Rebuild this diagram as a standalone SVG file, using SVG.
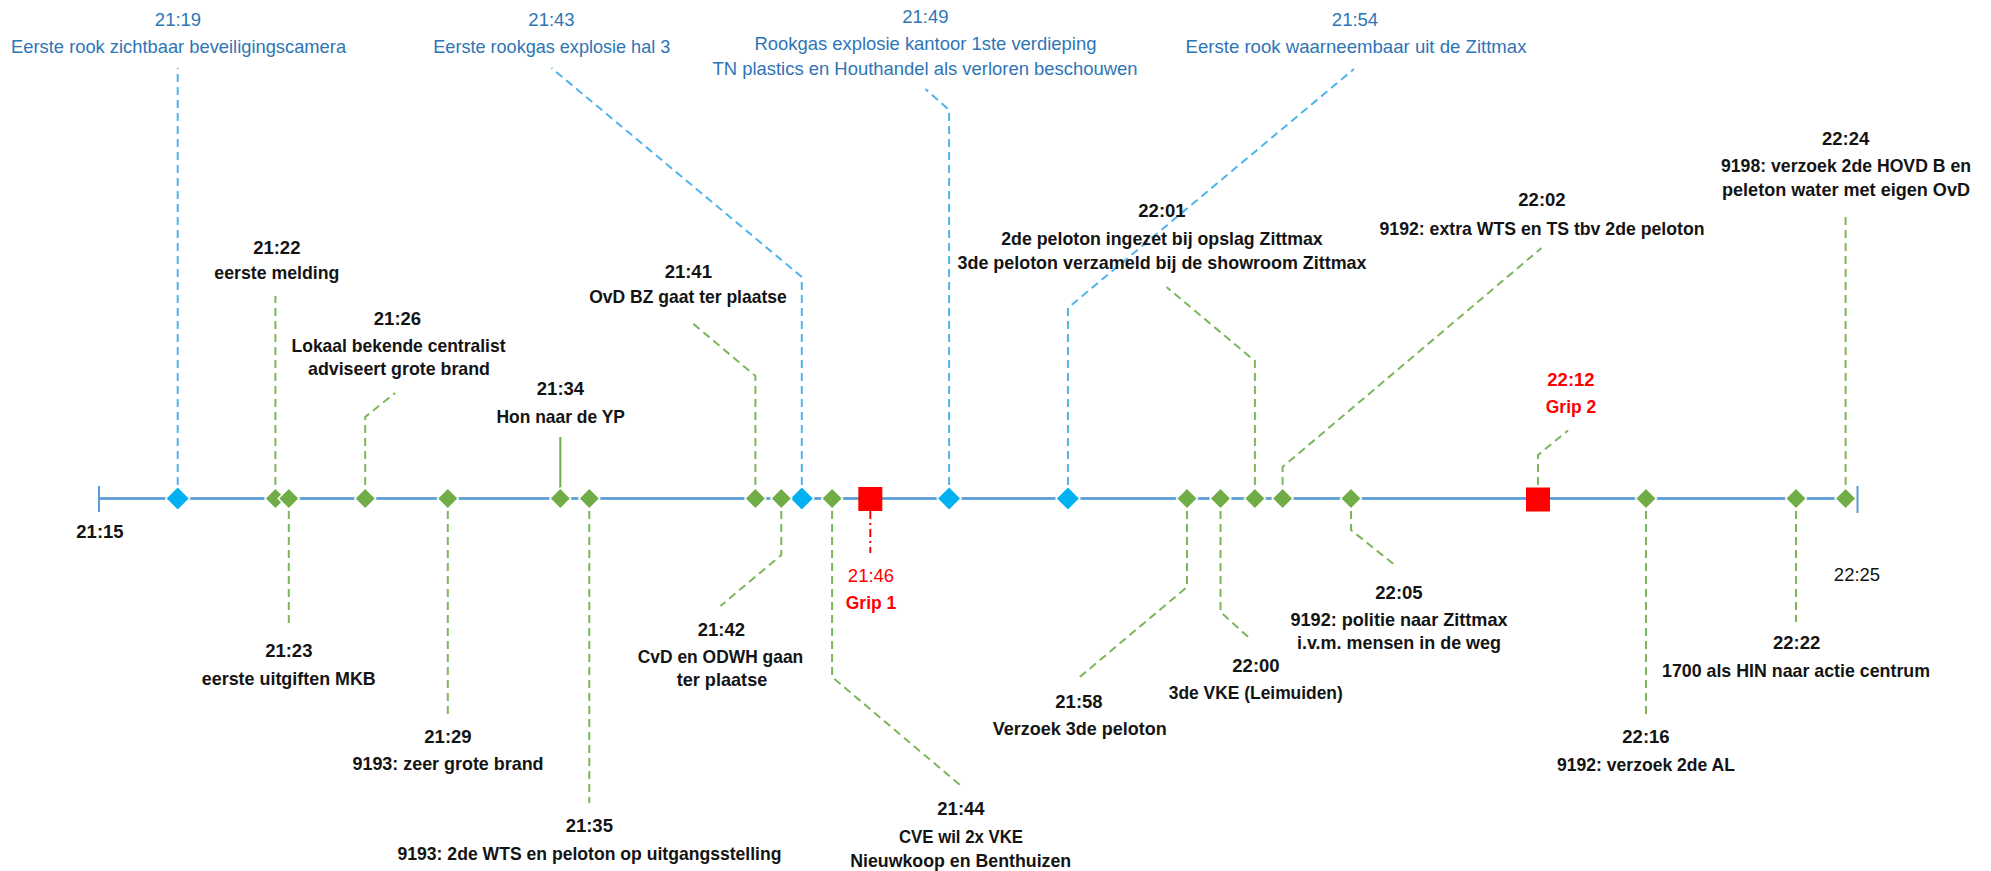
<svg xmlns="http://www.w3.org/2000/svg" xmlns:xlink="http://www.w3.org/1999/xlink" width="1991" height="871" viewBox="0 0 1991 871">
<style>
text{font-family:"Liberation Sans",Arial,sans-serif;font-size:18.5px;text-anchor:middle}
.bl{fill:#2E75B6}
.k{fill:#141414;font-weight:bold}
.rd{fill:#FF0000}
.rb{fill:#FF0000;font-weight:bold}
.cb{fill:none;stroke:#4FB4EC;stroke-width:2;stroke-dasharray:8 5}
.cg{fill:none;stroke:#7CB65A;stroke-width:2;stroke-dasharray:8 5}
.cgs{fill:none;stroke:#70AD47;stroke-width:2}
.cr{fill:none;stroke:#FF0000;stroke-width:2;stroke-dasharray:8 4 2 4}
.axis{fill:none;stroke:#5B9BD5;stroke-width:2.5}
</style>
<defs>
<path id="dg" d="M0,-10.5L10.5,0L0,10.5L-10.5,0Z" fill="#70AD47" stroke="#fff" stroke-width="1.5"/>
<path id="db" d="M0,-12L12,0L0,12L-12,0Z" fill="#00B0F0" stroke="#fff" stroke-width="1.5"/>
<rect id="sq" x="-12" y="-12" width="24" height="24" fill="#FF0000"/>
</defs>
<rect width="1991" height="871" fill="#fff"/>

<g id="connectors">
<path class="cb" d="M177.7,498V68"/>
<path class="cb" d="M801.8,498V277L551.5,68"/>
<path class="cb" d="M949.1,498V110L925.4,89"/>
<path class="cb" d="M1067.9,498V308L1354,69"/>
<path class="cg" d="M275.4,498V296"/>
<path class="cg" d="M365.2,498V417L395,393"/>
<path class="cgs" d="M560.3,498V437"/>
<path class="cg" d="M755.4,498V376L690,321"/>
<path class="cg" d="M1254.9,498V361L1166.5,287"/>
<path class="cg" d="M1282.6,498V467L1541.5,248"/>
<path class="cg" d="M1538,498V455L1568,430.5"/>
<path class="cg" d="M1845.6,498V212"/>
<path class="cg" d="M288.8,498V625"/>
<path class="cg" d="M447.8,498V715"/>
<path class="cg" d="M589.3,498V803"/>
<path class="cg" d="M781.3,498V555L720.5,606"/>
<path class="cg" d="M832.1,498V677L961.2,786"/>
<path class="cr" d="M870.3,511V553"/>
<path class="cg" d="M1187,498V587L1078.6,678"/>
<path class="cg" d="M1220.5,498V612L1250.4,639"/>
<path class="cg" d="M1351,498V530L1394.8,565"/>
<path class="cg" d="M1646,498V715"/>
<path class="cg" d="M1796,498V622"/>
</g>

<g id="axis">
<path class="axis" d="M99,498.5H1857.5M99,486V512M1857.5,486V513" style="stroke-width:2"/>
<path class="axis" d="M99,498.5H1857.5"/>
<text class="k" x="100" y="538">21:15</text>
<text x="1857" y="580.5" fill="#141414">22:25</text>
</g>

<g id="n2119">
<use href="#db" x="177.7" y="498.5"/>
<text class="bl" x="178" y="26">21:19</text>
<text class="bl" x="178.6" y="52.5" textLength="335" lengthAdjust="spacingAndGlyphs">Eerste rook zichtbaar beveiligingscamera</text>
</g>
<g id="n2143">
<use href="#db" x="801.8" y="498.5"/>
<text class="bl" x="551.5" y="26">21:43</text>
<text class="bl" x="551.8" y="52.5" textLength="237" lengthAdjust="spacingAndGlyphs">Eerste rookgas explosie hal 3</text>
</g>
<g id="n2149">
<use href="#db" x="949.1" y="498.5"/>
<text class="bl" x="925.4" y="23">21:49</text>
<text class="bl" x="925.4" y="49.5" textLength="342" lengthAdjust="spacingAndGlyphs">Rookgas explosie kantoor 1ste verdieping</text>
<text class="bl" x="925" y="74.5" textLength="425" lengthAdjust="spacingAndGlyphs">TN plastics en Houthandel als verloren beschouwen</text>
</g>
<g id="n2154">
<use href="#db" x="1067.9" y="498.5"/>
<text class="bl" x="1355" y="26">21:54</text>
<text class="bl" x="1356" y="52.5" textLength="341" lengthAdjust="spacingAndGlyphs">Eerste rook waarneembaar uit de Zittmax</text>
</g>

<g id="n2122">
<use href="#dg" x="275.4" y="498.5"/>
<text class="k" x="276.8" y="253.5">21:22</text>
<text class="k" x="276.8" y="278.5" textLength="125" lengthAdjust="spacingAndGlyphs">eerste melding</text>
</g>
<g id="n2123">
<use href="#dg" x="288.8" y="498.5"/>
<text class="k" x="288.8" y="657">21:23</text>
<text class="k" x="288.8" y="685" textLength="174" lengthAdjust="spacingAndGlyphs">eerste uitgiften MKB</text>
</g>
<g id="n2126">
<use href="#dg" x="365.2" y="498.5"/>
<text class="k" x="397.5" y="324.5">21:26</text>
<text class="k" x="398.5" y="351.5" textLength="214" lengthAdjust="spacingAndGlyphs">Lokaal bekende centralist</text>
<text class="k" x="399" y="374.5" textLength="182" lengthAdjust="spacingAndGlyphs">adviseert grote brand</text>
</g>
<g id="n2129">
<use href="#dg" x="447.8" y="498.5"/>
<text class="k" x="448" y="743">21:29</text>
<text class="k" x="448" y="770" textLength="191" lengthAdjust="spacingAndGlyphs">9193: zeer grote brand</text>
</g>
<g id="n2134">
<use href="#dg" x="560.3" y="498.5"/>
<text class="k" x="560.5" y="394.5">21:34</text>
<text class="k" x="560.7" y="422.5" textLength="128.6" lengthAdjust="spacingAndGlyphs">Hon naar de YP</text>
</g>
<g id="n2135">
<use href="#dg" x="589.3" y="498.5"/>
<text class="k" x="589.3" y="832">21:35</text>
<text class="k" x="589.5" y="860" textLength="384" lengthAdjust="spacingAndGlyphs">9193: 2de WTS en peloton op uitgangsstelling</text>
</g>
<g id="n2141">
<use href="#dg" x="755.4" y="498.5"/>
<text class="k" x="688.3" y="278">21:41</text>
<text class="k" x="688" y="303" textLength="197.5" lengthAdjust="spacingAndGlyphs">OvD BZ gaat ter plaatse</text>
</g>
<g id="n2142">
<use href="#dg" x="781.3" y="498.5"/>
<text class="k" x="721.4" y="636">21:42</text>
<text class="k" x="720.5" y="663" textLength="165.5" lengthAdjust="spacingAndGlyphs">CvD en ODWH gaan</text>
<text class="k" x="722" y="686" textLength="90.6" lengthAdjust="spacingAndGlyphs">ter plaatse</text>
</g>
<g id="n2144">
<use href="#dg" x="832.1" y="498.5"/>
<text class="k" x="961" y="815">21:44</text>
<text class="k" x="961" y="842.5" textLength="124" lengthAdjust="spacingAndGlyphs">CVE wil 2x VKE</text>
<text class="k" x="960.7" y="866.5" textLength="221" lengthAdjust="spacingAndGlyphs">Nieuwkoop en Benthuizen</text>
</g>
<g id="n2146">
<use href="#sq" x="870.3" y="499"/>
<text class="rd" x="871" y="582">21:46</text>
<text class="rb" x="871" y="609" textLength="50.5" lengthAdjust="spacingAndGlyphs">Grip 1</text>
</g>
<g id="n2158">
<use href="#dg" x="1187" y="498.5"/>
<text class="k" x="1079" y="708">21:58</text>
<text class="k" x="1079.7" y="735" textLength="174" lengthAdjust="spacingAndGlyphs">Verzoek 3de peloton</text>
</g>
<g id="n2200">
<use href="#dg" x="1220.5" y="498.5"/>
<text class="k" x="1256" y="671.5">22:00</text>
<text class="k" x="1255.8" y="699" textLength="174" lengthAdjust="spacingAndGlyphs">3de VKE (Leimuiden)</text>
</g>
<g id="n2201">
<use href="#dg" x="1254.9" y="498.5"/>
<text class="k" x="1162" y="217">22:01</text>
<text class="k" x="1162" y="244.5" textLength="321.5" lengthAdjust="spacingAndGlyphs">2de peloton ingezet bij opslag Zittmax</text>
<text class="k" x="1162" y="268.5" textLength="409" lengthAdjust="spacingAndGlyphs">3de peloton verzameld bij de showroom Zittmax</text>
</g>
<g id="n2202">
<use href="#dg" x="1282.6" y="498.5"/>
<text class="k" x="1542" y="205.5">22:02</text>
<text class="k" x="1542" y="234.5" textLength="325" lengthAdjust="spacingAndGlyphs">9192: extra WTS en TS tbv 2de peloton</text>
</g>
<g id="n2205">
<use href="#dg" x="1351" y="498.5"/>
<text class="k" x="1399" y="599">22:05</text>
<text class="k" x="1399" y="626" textLength="217" lengthAdjust="spacingAndGlyphs">9192: politie naar Zittmax</text>
<text class="k" x="1399" y="649" textLength="204" lengthAdjust="spacingAndGlyphs">i.v.m. mensen in de weg</text>
</g>
<g id="n2212">
<use href="#sq" x="1538" y="499.5"/>
<text class="rb" x="1571" y="385.5">22:12</text>
<text class="rb" x="1571" y="412.5" textLength="50.5" lengthAdjust="spacingAndGlyphs">Grip 2</text>
</g>
<g id="n2216">
<use href="#dg" x="1646" y="498.5"/>
<text class="k" x="1646" y="743">22:16</text>
<text class="k" x="1646" y="770.5" textLength="178" lengthAdjust="spacingAndGlyphs">9192: verzoek 2de AL</text>
</g>
<g id="n2222">
<use href="#dg" x="1796" y="498.5"/>
<text class="k" x="1796.7" y="649">22:22</text>
<text class="k" x="1796" y="676.5" textLength="268" lengthAdjust="spacingAndGlyphs">1700 als HIN naar actie centrum</text>
</g>
<g id="n2224">
<use href="#dg" x="1845.6" y="498.5"/>
<text class="k" x="1845.6" y="144.5">22:24</text>
<text class="k" x="1846" y="172" textLength="250" lengthAdjust="spacingAndGlyphs">9198: verzoek 2de HOVD B en</text>
<text class="k" x="1846" y="195.5" textLength="248" lengthAdjust="spacingAndGlyphs">peleton water met eigen OvD</text>
</g>
</svg>
